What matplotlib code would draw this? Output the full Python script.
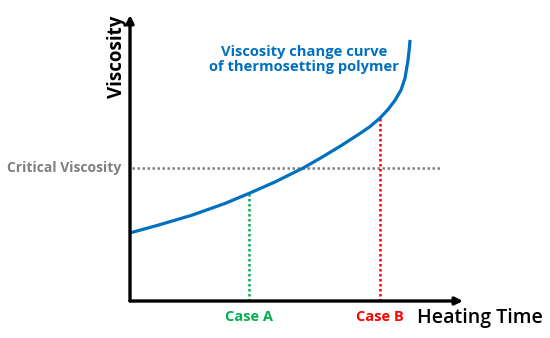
import matplotlib
matplotlib.use("Agg")
import matplotlib.pyplot as plt

# curve (arbitrary units)
heating_time = [0.0, 0.84, 1.86, 2.85, 3.57, 4.35, 5.20, 5.71, 6.31, 6.91,
                7.21, 7.51, 7.75, 7.96, 8.14, 8.26, 8.35, 8.39, 8.41]
viscosity = [2.38, 2.65, 3.00, 3.41, 3.76, 4.16, 4.65, 4.99, 5.41, 5.86,
             6.10, 6.40, 6.70, 7.02, 7.38, 7.80, 8.43, 8.85, 9.13]

critical_viscosity = 4.65
critical_end = 9.34
case_labels = ["Case A", "Case B"]
case_times = [3.57, 7.51]
case_values = [3.76, 6.40]
case_colors = ["#00B050", "#FF0000"]

plt.rcParams['font.family'] = ['Open Sans', 'DejaVu Sans']

fig = plt.figure(figsize=(5.5, 3.38), dpi=100)
ax = fig.add_axes([130 / 550, 37 / 338, 333 / 550, 286 / 338])
ax.set_xlim(0, 10)
ax.set_ylim(0, 10)
ax.axis('off')

# axes with arrow heads
arrow = dict(arrowstyle='-|>', lw=2.4, color='black', mutation_scale=11, shrinkA=0, shrinkB=0)
ax.annotate('', xy=(10, 0), xytext=(0, 0), arrowprops=arrow, annotation_clip=False)
ax.annotate('', xy=(0, 10), xytext=(0, 0), arrowprops=arrow, annotation_clip=False)

# critical viscosity line
ax.plot([0.05, critical_end], [critical_viscosity, critical_viscosity],
        color='#808080', lw=1.8, linestyle=(0, (1, 1)), clip_on=False)
ax.text(-0.25, critical_viscosity, "Critical Viscosity", ha='right', va='center',
        color='#7F7F7F', fontsize=10, fontweight='bold')

# case markers
for lab, t, v, c in zip(case_labels, case_times, case_values, case_colors):
    ax.plot([t, t], [0, v], color=c, lw=1.8, linestyle=(0, (1, 1)), clip_on=False)
    ax.text(t, -0.55, lab, ha='center', va='center', color=c,
            fontsize=10.5, fontweight='bold')

# viscosity curve
ax.plot(heating_time, viscosity, color='#0070C0', lw=2.3, clip_on=False,
        solid_capstyle='butt', solid_joinstyle='round')
ax.text(5.23, 8.45, "Viscosity change curve\nof thermosetting polymer", ha='center',
        va='center', color='#0070C0', fontsize=10.6, fontweight='bold', linespacing=1.15)

# axis titles
ax.text(8.62, -0.6, "Heating Time", ha='left', va='center', fontsize=14,
        fontweight='semibold')
ax.text(-0.39, 8.53, "Viscosity", ha='center', va='center', rotation=90,
        fontsize=13.5, fontweight='bold')

fig.savefig("out.png", dpi=100)
